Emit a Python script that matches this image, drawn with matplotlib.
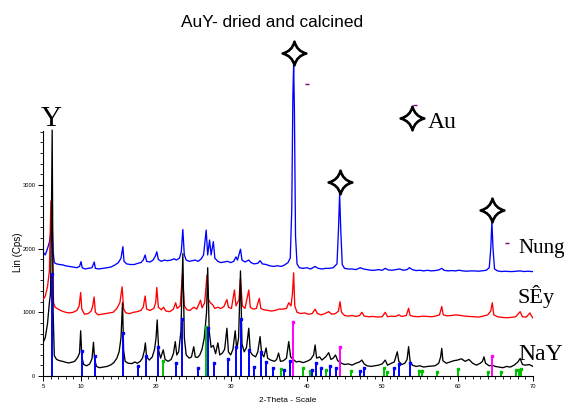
import numpy as np
import matplotlib
matplotlib.use("Agg")
import matplotlib.pyplot as plt
from matplotlib.path import Path
from matplotlib.ticker import FixedLocator

# ---------------- data ----------------
nay_2theta = [5.0, 5.3, 5.6, 5.85, 6.0, 6.1, 6.22, 6.35, 6.5, 6.8, 7.2, 7.6, 8.0, 8.4, 8.8, 9.2, 9.6, 9.85,
              10.0, 10.15, 10.4, 10.8, 11.2, 11.5, 11.7, 11.85, 12.1, 12.5, 13.0, 13.5, 14.0, 14.4, 14.8,
              15.1, 15.35, 15.55, 15.7, 15.9, 16.3, 16.8, 17.2, 17.5, 17.9, 18.2, 18.45, 18.58, 18.75,
              19.1, 19.5, 19.8, 20.0, 20.15, 20.35, 20.6, 20.95, 21.2, 21.6, 22.0, 22.3, 22.55, 22.75,
              23.0, 23.3, 23.55, 23.75, 24.0, 24.4, 24.7, 25.0, 25.2, 25.5, 25.8, 26.1, 26.4, 26.7,
              26.85, 27.05, 27.3, 27.6, 27.9, 28.2, 28.45, 28.8, 29.1, 29.4, 29.6, 29.9, 30.2, 30.5,
              30.7, 30.95, 31.2, 31.4, 31.7, 32.0, 32.3, 32.5, 32.8, 33.2, 33.5, 33.8, 34.0, 34.3,
              34.6, 34.8, 35.2, 35.7, 36.0, 36.25, 36.5, 36.9, 37.3, 37.6, 37.85, 38.2, 38.6, 39.0,
              39.5, 40.0, 40.5, 40.9, 41.1, 41.3, 41.7, 42.0, 42.5, 42.9, 43.2, 43.5, 43.8, 44.1,
              44.6, 45.0, 45.5, 46.0, 46.5, 47.0, 47.3, 47.6, 48.0, 48.5, 49.0, 49.5, 50.0, 50.4,
              50.7, 51.2, 51.6, 52.0, 52.2, 52.6, 53.0, 53.3, 53.5, 53.7, 54.0, 54.5, 55.0, 55.5,
              56.0, 56.5, 57.0, 57.5, 57.75, 57.9, 58.05, 58.5, 59.0, 59.5, 60.0, 60.5, 61.0, 61.5,
              62.0, 62.5, 63.0, 63.3, 63.5, 63.7, 64.2, 64.6, 65.0, 65.5, 66.0, 66.5, 67.0, 67.5,
              68.0, 68.3, 68.6, 69.0, 69.5, 70.0]
nay_counts = [520, 600, 820, 1150, 1300, 2200, 3860, 1000, 320, 260, 240, 230, 215, 205, 215, 230, 290, 360,
              710, 300, 180, 160, 190, 270, 530, 260, 150, 130, 140, 150, 175, 210, 280,
              380, 600, 1150, 400, 230, 200, 195, 220, 200, 230, 280, 400, 520, 300,
              250, 300, 420, 600, 880, 400, 280, 410, 260, 230, 260, 350, 540, 330,
              380, 700, 1920, 600, 330, 280, 300, 460, 300, 290, 330, 420, 600, 1000,
              1700, 700, 450, 480, 350, 520, 330, 360, 420, 750, 380, 330, 420, 710,
              420, 600, 1650, 500, 380, 450, 750, 380, 330, 300, 380, 620, 360, 300,
              440, 280, 250, 230, 260, 360, 230, 240, 280, 540, 300, 260, 220, 230,
              210, 230, 260, 330, 487, 280, 300, 250, 300, 366, 260, 280, 330, 240,
              200, 180, 190, 170, 200, 220, 250, 190, 160, 150, 160, 170, 190, 250,
              170, 200, 220, 380, 230, 180, 200, 260, 460, 230, 170, 150, 160, 140,
              150, 155, 160, 200, 300, 434, 240, 200, 220, 240, 250, 270, 230, 260,
              200, 170, 200, 230, 300, 200, 160, 170, 150, 140, 130, 150, 140, 170,
              220, 276, 180, 170, 180, 150]

sey_2theta = [5.0, 5.3, 5.6, 5.85, 6.05, 6.25, 6.4, 6.6, 7.0, 7.5, 8.0, 8.5, 9.0, 9.5, 9.8, 10.0, 10.15,
              10.5, 11.0, 11.4, 11.6, 11.78, 11.95, 12.3, 12.8, 13.3, 13.8, 14.3, 14.8, 15.2, 15.5,
              15.7, 16.0, 16.5, 17.0, 17.5, 18.0, 18.3, 18.55, 18.75, 19.2, 19.7, 19.95, 20.1, 20.3,
              20.7, 21.0, 21.3, 21.8, 22.3, 22.6, 22.8, 23.2, 23.5, 23.75, 24.1, 24.5, 25.0, 25.4,
              25.9, 26.1, 26.45, 26.75, 26.95, 27.2, 27.5, 27.8, 28.2, 28.6, 29.0, 29.4, 29.6, 30.0,
              30.4, 30.6, 31.0, 31.2, 31.45, 31.8, 32.3, 32.5, 32.9, 33.3, 33.7, 33.9, 34.3, 34.8,
              35.3, 35.8, 36.3, 36.8, 37.3, 37.6, 37.9, 38.1, 38.25, 38.4, 38.7, 39.2, 39.7, 40.2,
              40.7, 41.1, 41.4, 41.9, 42.4, 42.9, 43.3, 43.8, 44.2, 44.4, 44.6, 45.0, 45.5, 46.0,
              46.5, 47.0, 47.3, 47.6, 48.2, 48.8, 49.4, 50.0, 50.4, 50.7, 51.2, 51.8, 52.2, 52.6,
              53.2, 53.5, 53.7, 54.2, 54.8, 55.4, 56.0, 56.6, 57.2, 57.6, 57.9, 58.1, 58.6, 59.2,
              59.8, 60.4, 61.0, 61.6, 62.2, 62.8, 63.4, 64.0, 64.4, 64.6, 64.8, 65.3, 65.9, 66.5,
              67.1, 67.7, 68.3, 68.6, 69.1, 69.6, 69.8, 70.0]
sey_counts = [1200, 1250, 1400, 1650, 2750, 1900, 1150, 1080, 1050, 1020, 1000, 990, 1000, 1030, 1100, 1310, 1050,
              970, 980, 1020, 1100, 1240, 1000, 960, 970, 980, 990, 1000, 1060, 1150, 1400,
              1050, 990, 980, 1000, 1010, 1030, 1080, 1255, 1050, 1030, 1060, 1150, 1390, 1080,
              1040, 1080, 1020, 1010, 1050, 1150, 1060, 1100, 1600, 1100, 1040, 1030, 1080, 1050,
              1190, 1070, 1150, 1580, 1200, 1150, 1120, 1060, 1080, 1060, 1090, 1200, 1080, 1060,
              1350, 1100, 1200, 1530, 1100, 1060, 1350, 1080, 1050, 1060, 1220, 1060, 1040, 1030,
              1020, 1030, 1050, 1050, 1060, 1150, 1100, 1300, 1620, 1100, 1000, 980, 990, 970,
              980, 1050, 980, 960, 980, 1010, 970, 980, 1020, 1167, 1000, 950, 940, 950,
              935, 950, 1000, 940, 930, 935, 925, 930, 1000, 930, 940, 935, 960, 935,
              950, 1063, 950, 935, 930, 940, 935, 930, 945, 960, 1090, 960, 945, 950,
              960, 950, 940, 935, 930, 925, 940, 960, 1020, 1150, 960, 930, 920, 915,
              920, 930, 1010, 930, 925, 990, 940, 910]

nung_2theta = [5.0, 5.3, 5.6, 5.85, 6.05, 6.2, 6.35, 6.5, 6.8, 7.2, 7.6, 8.0, 8.5, 9.0, 9.5, 9.85, 10.05,
               10.2, 10.6, 11.0, 11.5, 11.8, 11.95, 12.4, 13.0, 13.5, 14.0, 14.5, 15.0, 15.35, 15.6,
               15.75, 16.1, 16.6, 17.1, 17.6, 18.0, 18.3, 18.55, 18.75, 19.2, 19.6, 19.9, 20.1, 20.3,
               20.7, 21.1, 21.5, 22.0, 22.4, 22.7, 23.1, 23.35, 23.55, 23.75, 24.0, 24.4, 24.8, 25.2,
               25.6, 26.0, 26.3, 26.65, 26.85, 27.1, 27.3, 27.6, 27.8, 28.2, 28.6, 29.0, 29.5, 29.9,
               30.3, 30.6, 30.8, 31.2, 31.4, 31.8, 32.3, 32.6, 33.0, 33.5, 33.8, 34.1, 34.6, 35.1,
               35.6, 36.1, 36.6, 37.0, 37.5, 37.8, 38.0, 38.15, 38.25, 38.35, 38.5, 38.7, 39.0, 39.5,
               40.0, 40.5, 41.1, 41.5, 42.0, 42.5, 43.0, 43.5, 44.0, 44.2, 44.35, 44.5, 44.7, 45.0,
               45.5, 46.0, 46.5, 47.1, 47.5, 48.0, 48.5, 49.0, 49.5, 50.0, 50.4, 50.8, 51.3, 51.8,
               52.3, 52.8, 53.3, 53.6, 54.0, 54.5, 55.0, 55.5, 56.0, 56.5, 57.0, 57.5, 57.9, 58.2,
               58.7, 59.2, 59.7, 60.2, 60.7, 61.2, 61.7, 62.2, 62.7, 63.2, 63.8, 64.2, 64.4, 64.55,
               64.7, 64.9, 65.3, 65.8, 66.3, 66.8, 67.3, 67.8, 68.3, 68.8, 69.3, 69.8, 70.0]
nung_counts = [1950, 1900, 2000, 2100, 2250, 2450, 1950, 1780, 1760, 1750, 1745, 1730, 1720, 1710, 1700, 1720, 1795,
               1700, 1680, 1690, 1700, 1790, 1690, 1680, 1690, 1700, 1710, 1740, 1780, 1850, 2030,
               1800, 1760, 1750, 1750, 1770, 1780, 1820, 1900, 1800, 1790, 1820, 1880, 1950, 1830,
               1800, 1820, 1810, 1820, 1840, 1820, 1850, 1950, 2300, 1900, 1820, 1800, 1810, 1820,
               1800, 1840, 1900, 2290, 1900, 2135, 1900, 2110, 1850, 1800, 1780, 1790, 1800, 1780,
               1800, 1870, 1820, 1990, 1820, 1790, 1820, 1780, 1760, 1770, 1810, 1760, 1750, 1730,
               1720, 1730, 1720, 1740, 1780, 1850, 2600, 4400, 4880, 4200, 2200, 1760, 1700, 1690,
               1700, 1680, 1720, 1690, 1680, 1690, 1690, 1700, 1760, 2300, 2860, 2300, 1750, 1690,
               1680, 1680, 1670, 1700, 1680, 1670, 1660, 1660, 1670, 1660, 1690, 1665, 1660, 1670,
               1680, 1660, 1670, 1700, 1670, 1655, 1660, 1650, 1660, 1650, 1655, 1665, 1690, 1660,
               1650, 1655, 1650, 1660, 1650, 1645, 1650, 1650, 1645, 1650, 1660, 1700, 2000, 2420,
               2000, 1680, 1650, 1640, 1645, 1640, 1640, 1645, 1650, 1640, 1645, 1640, 1640]

# reference stick patterns
blue_sticks_2theta = [6.2, 10.13, 11.9, 15.6, 17.6, 18.6, 20.3, 22.7, 23.5, 25.6, 26.95, 27.7, 29.5, 30.6,
                      31.3, 32.3, 32.97, 33.95, 34.6, 35.55, 37.0, 37.75, 40.7, 41.26, 41.9, 43.1, 43.9,
                      47.0, 47.63, 51.5, 52.2, 53.7]
blue_sticks_counts = [1600, 400, 320, 680, 162, 319, 460, 210, 900, 120, 760, 210, 272, 460,
                      900, 408, 146, 372, 225, 120, 94, 235, 94, 200, 130, 157, 120,
                      84, 130, 120, 183, 210]
green_sticks_2theta = [20.9, 26.6, 36.6, 39.5, 40.37, 42.5, 45.86, 50.3, 50.7, 54.9, 55.3, 57.3, 60.0,
                       64.06, 65.8, 67.8, 68.1, 68.4]
green_sticks_counts = [235, 775, 110, 120, 78, 94, 78, 120, 58, 84, 84, 58, 110,
                       68, 58, 94, 94, 105]
magenta_sticks_2theta = [38.2, 44.4, 64.6]
magenta_sticks_counts = [840, 460, 314]

# Au marker (star) positions above the gold peaks
au_star_2theta = [38.24, 44.44, 64.59]
au_star_counts = [5066, 3045, 2606]
legend_star = (53.96, 4045)
purple_marks_2theta = [40.0, 54.4, 66.6]
purple_marks_counts = [4584, 4254, 2088]

x_ticks = [5, 10, 20, 30, 40, 50, 60, 70]
x_tick_labels = ["5", "10", "20", "30", "40", "50", "60", "70"]
y_ticks = [0, 1000, 2000, 3000]
y_tick_labels = ["0", "1000", "2000", "3000"]

# ---------------- figure ----------------
fig = plt.figure(figsize=(5.64, 4.12), dpi=100)
ax = fig.add_axes([0.0762, 0.0874, 0.8688, 0.8039])
ax.set_xlim(5, 70)
ax.set_ylim(0, 5200)

ax.plot(nung_2theta, nung_counts, color="#0000ff", lw=0.95, zorder=2)
ax.plot(sey_2theta, sey_counts, color="#ff0000", lw=0.95, zorder=3)
ax.plot(nay_2theta, nay_counts, color="black", lw=0.95, zorder=4)

for xs, hs, col in [(green_sticks_2theta, green_sticks_counts, "#00c000"),
                    (blue_sticks_2theta, blue_sticks_counts, "#0000ff"),
                    (magenta_sticks_2theta, magenta_sticks_counts, "#ff00ff")]:
    ax.vlines(xs, 0, hs, colors=col, lw=1.4, zorder=5)
    ax.plot(xs, hs, ls="none", marker="s", ms=1.7, color=col, zorder=5)

# four-pointed sparkle star
verts = [(0, 1), (0.2, 0.2), (1, 0), (0.2, -0.2), (0, -1), (-0.2, -0.2),
         (-1, 0), (-0.2, 0.2), (0, 1), (0, 1)]
codes = [Path.MOVETO, Path.CURVE3, Path.CURVE3, Path.CURVE3, Path.CURVE3,
         Path.CURVE3, Path.CURVE3, Path.CURVE3, Path.CURVE3, Path.CLOSEPOLY]
star = Path(verts, codes)
ax.plot(au_star_2theta, au_star_counts, ls="none", marker=star, ms=17, mfc="white",
        mec="black", mew=1.9, zorder=6, clip_on=False)
ax.plot([legend_star[0]], [legend_star[1]], ls="none", marker=star, ms=17, mfc="white",
        mec="black", mew=1.9, zorder=6, clip_on=False)
ax.plot(purple_marks_2theta, purple_marks_counts, ls="none", marker="_", ms=2.5,
        mew=1.0, color="#800080", zorder=6, clip_on=False)

serif = ["Liberation Serif", "DejaVu Serif"]
ax.text(6.06, 3925, "Y", family=serif, fontsize=21, ha="center", va="baseline", clip_on=False)
ax.text(56.1, 3893, "Au", family=serif, fontsize=17, ha="left", va="baseline", clip_on=False)
ax.text(68.0, 1931, "Nung", family=serif, fontsize=15, ha="left", va="baseline", clip_on=False)
ax.text(68.0, 1146, "SÊy", family=serif, fontsize=16, ha="left", va="baseline", clip_on=False)
ax.text(68.0, 251, "NaY", family=serif, fontsize=17, ha="left", va="baseline", clip_on=False)

sans = ["Liberation Sans", "DejaVu Sans"]
fig.text(272.5 / 564, (412 - 27.3) / 412, "AuY- dried and calcined", family=sans,
         fontsize=12.4, ha="center", va="baseline")

for s in ["top", "right"]:
    ax.spines[s].set_visible(False)
ax.spines["left"].set_bounds(0, 3850)
ax.spines["left"].set_linewidth(0.8)
ax.spines["bottom"].set_linewidth(0.8)

ax.xaxis.set_major_locator(FixedLocator(x_ticks))
ax.set_xticklabels(x_tick_labels, family=sans, fontsize=4.2)
ax.xaxis.set_minor_locator(FixedLocator(np.arange(5, 71, 1)))
ax.yaxis.set_major_locator(FixedLocator(y_ticks))
ax.set_yticklabels(y_tick_labels, family=sans, fontsize=4.2)
ax.yaxis.set_minor_locator(FixedLocator(np.arange(0, 3851, 1000 / 6)))
ax.tick_params(axis="both", which="major", direction="out", length=3.5, width=0.7, pad=2)
ax.tick_params(axis="both", which="minor", direction="out", length=2, width=0.6)

ax.set_xlabel("2-Theta - Scale", family=sans, fontsize=6, labelpad=6)
ax.set_ylabel("Lin (Cps)", family=sans, fontsize=7)
ax.yaxis.set_label_coords(-0.04, (376 - 252) / (412 * 0.8039))

fig.savefig("out.png", dpi=100)
